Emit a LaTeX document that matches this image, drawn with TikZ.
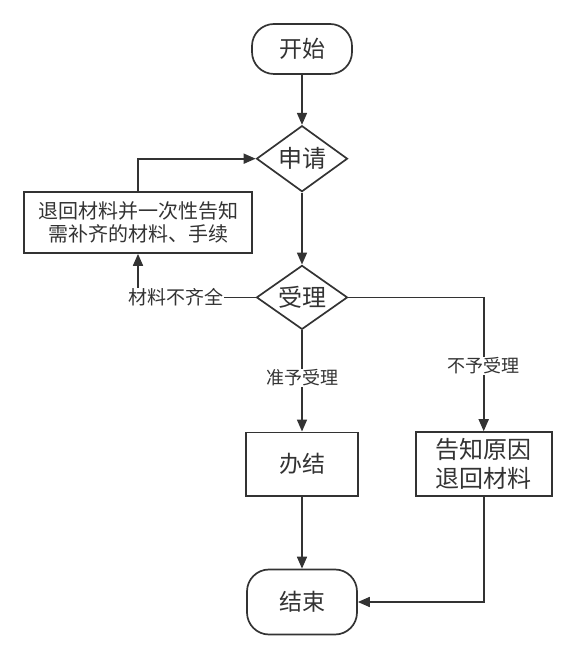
\documentclass[tikz,border=0pt]{standalone}
\usepackage{fontspec}
\newfontfamily\cjk{Noto Sans CJK SC}
\usetikzlibrary{arrows.meta,shapes.geometric,positioning}
\definecolor{ink}{HTML}{333333}
\begin{document}
\begin{tikzpicture}[x=1pt,y=1pt,
    term/.style={draw=ink,line width=1.7pt,rounded corners=22pt,text=ink,
      font=\fontsize{23}{28}\cjk},
    decide/.style={draw=ink,line width=1.7pt,diamond,aspect=1.4,inner sep=0pt,
      minimum width=91pt,minimum height=66pt,text=ink,font=\fontsize{24}{29}\cjk},
    proc/.style={draw=ink,line width=1.7pt,align=center,inner sep=0pt,text=ink},
    lbl/.style={fill=white,inner sep=1pt,text=ink,font=\fontsize{18}{22}\cjk},
    flow/.style={draw=ink,line width=1.7pt,-{Triangle[length=12pt,width=10pt]}}]
  \useasboundingbox (0,0) rectangle (575,653);
  \node [term,minimum width=100pt,minimum height=50pt] (start) at (302,604) {开始};
  \node [decide,below=50pt of start] (apply) {申请};
  \node [decide,minimum height=64pt,below=72pt of apply] (accept) {受理};
  \node [proc,minimum width=112pt,minimum height=63.4pt,below=101.3pt of accept,
    font=\fontsize{23}{28}\cjk] (done) {办结};
  \node [proc,minimum width=136pt,minimum height=64pt,right=56pt of done,
    font=\fontsize{24}{29}\cjk] (reject) {告知原因\\退回材料};
  \node [term,minimum width=110pt,minimum height=65pt,below=72pt of done] (finish)
    {结束};
  \node [proc,minimum width=228pt,minimum height=61pt,font=\fontsize{20}{23}\cjk]
    (back) at (138,430.5) {退回材料并一次性告知\\需补齐的材料、手续};
  % main line
  \draw [flow] (start) -- (apply);
  \draw [flow] (apply) -- (accept);
  \draw [flow] (accept) -- node [lbl,pos=.47] {准予受理} (done);
  \draw [flow] (done) -- (finish);
  % branches
  \draw [flow] (accept.east) -| node [lbl,pos=.756] {不予受理} (reject.north);
  \draw [flow] (reject.south) |- (finish.east);
  \draw [flow] (accept.west) -| node [lbl,pos=.34,font=\fontsize{19}{23}\cjk]
    {材料不齐全} (back.south);
  \draw [flow] (back.north) |- (apply.west);
\end{tikzpicture}
\end{document}
